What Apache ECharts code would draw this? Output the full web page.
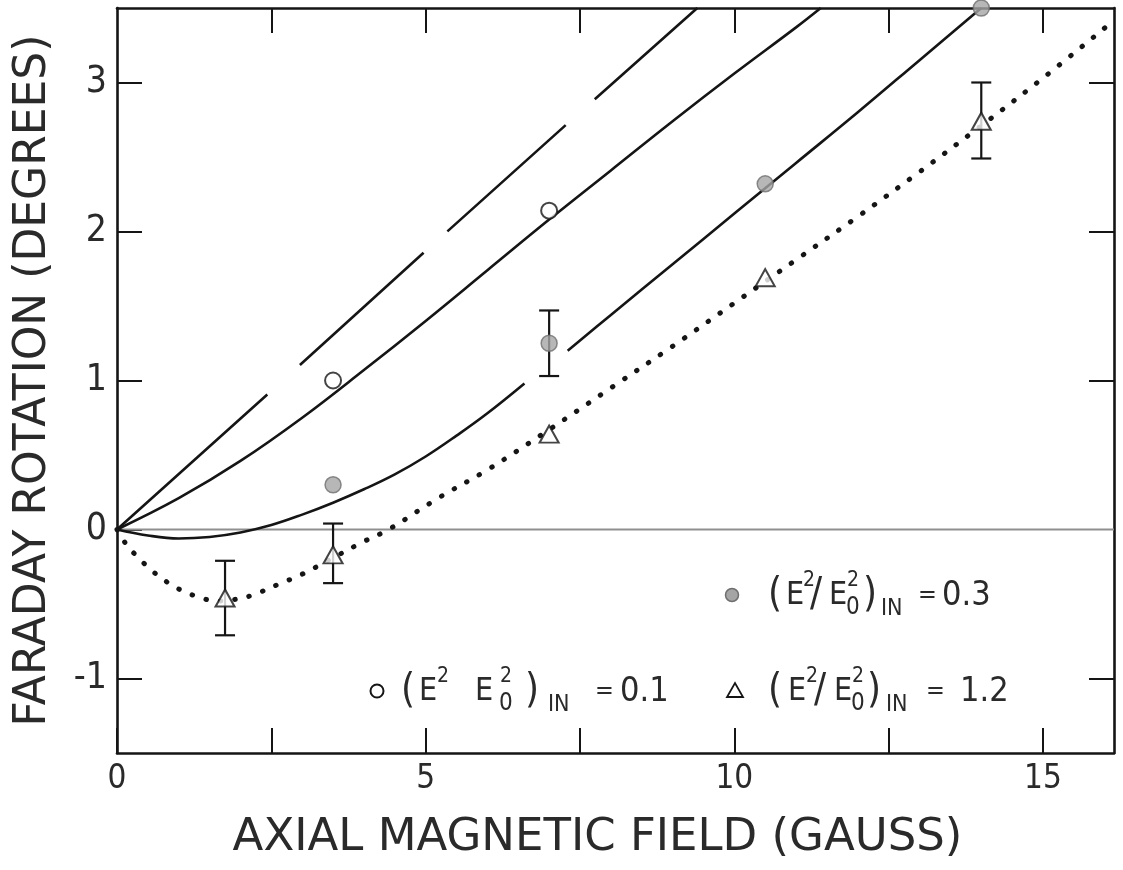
<!DOCTYPE html>
<html>
<head>
<meta charset="utf-8">
<script src="https://cdn.jsdelivr.net/npm/echarts@6/dist/echarts.min.js"></script>
<style>html,body{margin:0;padding:0;background:#fff}#c{width:1123px;height:870px}</style>
</head>
<body>
<div id="c"></div>
<script>
// ---------- data ----------
const xTickValues = [0, 2.5, 5, 7.5, 10, 12.5, 15];
const xTopTickValues = [2.5, 5, 7.5, 10, 12.5, 15];
const xLabelValues = [0, 5, 10, 15];
const yTickValues = [-1, 0, 1, 2, 3];
const yRightTickValues = [-1, 1, 2, 3];
const yLabelValues = [-1, 0, 1, 2, 3];

// long-dashed theory curve
const curveDashed = [[0, 0], [2.5, 0.93], [5, 1.87], [7.5, 2.8], [9.4, 3.5]];
// solid curve through open circles (E²/E0² = 0.1)
const curveLow = [[0, 0], [1, 0.21], [2, 0.46], [3, 0.75], [4, 1.07], [5, 1.40], [6, 1.74], [7, 2.08],
  [8, 2.41], [9, 2.74], [10, 3.06], [11, 3.37], [11.4, 3.5]];
// solid curve through filled circles (E²/E0² = 0.3), broken at the error bar
const curveMidA = [[0, 0], [0.5, -0.04], [1, -0.06], [1.5, -0.05], [2, -0.02], [2.5, 0.03], [3, 0.10], [3.5, 0.18],
  [4, 0.27], [4.5, 0.37], [5, 0.49], [5.5, 0.63], [6, 0.78], [6.6, 0.98]];
const curveMidB = [[7.3, 1.2], [8, 1.44], [9, 1.78], [10, 2.12], [11, 2.46], [12, 2.8], [13, 3.15], [14, 3.5]];
// dotted curve through triangles (E²/E0² = 1.2)
const curveDotted = [[0, 0], [0.15, -0.1], [0.3, -0.17], [0.55, -0.27], [0.8, -0.35], [1.05, -0.41], [1.3, -0.45],
  [1.6, -0.48], [1.9, -0.47], [2.2, -0.44], [2.6, -0.37], [3.0, -0.3], [3.5, -0.19], [4.0, -0.08], [4.4, 0.0],
  [5.2, 0.21], [6.0, 0.4], [7.0, 0.67], [8.0, 0.95], [9.0, 1.23], [10.0, 1.52], [11.0, 1.81], [12.0, 2.1],
  [13.0, 2.4], [14.0, 2.71], [15.0, 3.03], [16.1, 3.4]];

const pointsOpen = [[3.5, 1.0], [7, 2.14]];
const pointsFilled = [[3.5, 0.3], [7, 1.25], [10.5, 2.32], [14, 3.5]];
const pointsTriangle = [[1.75, -0.46], [3.5, -0.17], [7, 0.64], [10.5, 1.69], [14, 2.74]];
// [x, low, high]
const errorBars = [[1.75, -0.71, -0.21], [3.5, -0.36, 0.04], [7, 1.03, 1.47], [14, 2.49, 3.0]];
const zeroLine = [[0, 0], [16.15, 0]];

// ---------- styling ----------
const INK = '#151515';
const TXT = '#2a2a2a';
const FONT = "'DejaVu Sans', sans-serif";
const FONTC = "'DejaVu Sans Condensed', 'DejaVu Sans', sans-serif";
const FONTN = "'Liberation Sans Narrow', 'DejaVu Sans Condensed', sans-serif";

// offsets of the pieces of a legend formula, relative to its opening parenthesis
function legendFormula(x0, y0, o, value) {
  const parts = [];
  const t = (str, dx, dy, size) => parts.push({
    type: 'text', x: x0 + dx, y: y0 + dy, silent: true,
    style: { text: str, fill: TXT, fontSize: size, fontFamily: FONTC, align: 'left', verticalAlign: 'middle' }
  });
  t('(', -2, 0, 40);
  t('E', o.e1, 0, 32);
  t('2', o.s1, -15, 21);
  if (o.sl !== undefined) t('/', o.sl, 0, 40);
  t('E', o.e2, 0, 32);
  t('2', o.s2, -15, 21);
  t('0', o.s2 - 1, 12, 24);
  t(')', o.cp, 0, 40);
  t('IN', o.inn, 13, 23);
  t('=', o.eq, -1, 25);
  t(value, o.val, 0, 34);
  return parts;
}

const graphics = [].concat(
  [{ type: 'circle', shape: { cx: 732, cy: 595, r: 6.5 }, style: { fill: '#a5a5a5', stroke: '#6f6f6f', lineWidth: 1.5 }, silent: true },
   { type: 'circle', shape: { cx: 377, cy: 691, r: 6.5 }, style: { fill: '#fff', stroke: INK, lineWidth: 2 }, silent: true },
   { type: 'polygon', shape: { points: [[727, 697], [743, 697], [735, 683]] }, style: { fill: '#fff', stroke: INK, lineWidth: 1.8 }, silent: true }],
  legendFormula(770, 596, { e1: 16, s1: 33, sl: 40, e2: 59, s2: 77, cp: 93, inn: 111, eq: 148, val: 172 }, '0.3'),
  legendFormula(403, 692, { e1: 16, s1: 34, e2: 72, s2: 97, cp: 122, inn: 145, eq: 192, val: 217 }, '0.1'),
  legendFormula(770, 692, { e1: 18, s1: 36, sl: 44, e2: 64, s2: 82, cp: 97, inn: 116, eq: 156, val: 190 }, '1.2')
);

const chart = echarts.init(document.getElementById('c'), null, { renderer: 'canvas' });

const axisLineStyle = { color: INK, width: 2.6 };
const tickStyle = { color: INK, width: 2 };

chart.setOption({
  animation: false,
  backgroundColor: '#fff',
  grid: { left: 117, right: 9, top: 8, bottom: 117, containLabel: false },
  xAxis: [
    {
      type: 'value', min: 0, max: 16.15, position: 'bottom',
      axisLine: { show: true, onZero: false, lineStyle: axisLineStyle },
      axisTick: { show: true, inside: true, length: 25, customValues: xTickValues, lineStyle: tickStyle },
      axisLabel: { customValues: xLabelValues, fontSize: 33, fontFamily: FONTN, color: TXT, margin: 10 },
      splitLine: { show: false },
      name: 'AXIAL MAGNETIC FIELD (GAUSS)', nameLocation: 'middle', nameGap: 63,
      nameTextStyle: { fontSize: 45, fontFamily: FONT, color: TXT, padding: [0, 36, 0, 0] }
    },
    {
      type: 'value', min: 0, max: 16.15, position: 'top',
      axisLine: { show: true, onZero: false, lineStyle: axisLineStyle },
      axisTick: { show: true, inside: true, length: 25, customValues: xTopTickValues, lineStyle: tickStyle },
      axisLabel: { show: false }, splitLine: { show: false }
    }
  ],
  yAxis: [
    {
      type: 'value', min: -1.5, max: 3.5, position: 'left',
      axisLine: { show: true, onZero: false, lineStyle: axisLineStyle },
      axisTick: { show: true, inside: true, length: 25, customValues: yTickValues, lineStyle: tickStyle },
      axisLabel: { customValues: yLabelValues, fontSize: 37, fontFamily: FONTN, color: TXT, margin: 10 },
      splitLine: { show: false },
      name: 'FARADAY ROTATION (DEGREES)', nameLocation: 'middle', nameGap: 61,
      nameTextStyle: { fontSize: 44, fontFamily: FONT, color: TXT }
    },
    {
      type: 'value', min: -1.5, max: 3.5, position: 'right',
      axisLine: { show: true, onZero: false, lineStyle: axisLineStyle },
      axisTick: { show: true, inside: true, length: 25, customValues: yRightTickValues, lineStyle: tickStyle },
      axisLabel: { show: false }, splitLine: { show: false }
    }
  ],
  graphic: graphics,
  series: [
    { type: 'line', data: zeroLine, symbol: 'none', lineStyle: { color: '#8f8f8f', width: 2 }, z: 1, silent: true },
    { type: 'line', data: curveDashed, symbol: 'none', lineStyle: { color: INK, width: 2.6, type: [202, 44, 167, 32, 159, 39, 220] }, z: 2 },
    { type: 'line', data: curveLow, symbol: 'none', smooth: 0.4, lineStyle: { color: INK, width: 2.6 }, z: 2 },
    { type: 'line', data: curveMidA, symbol: 'none', smooth: 0.4, lineStyle: { color: INK, width: 2.6 }, z: 2 },
    { type: 'line', data: curveMidB, symbol: 'none', smooth: 0.4, lineStyle: { color: INK, width: 2.6 }, z: 2 },
    { type: 'line', data: curveDotted, symbol: 'none', smooth: 0.35, lineStyle: { color: INK, width: 5, type: [0.5, 14], cap: 'round' }, z: 2 },
    {
      type: 'custom', data: errorBars, z: 3, silent: true,
      encode: { x: 0, y: [1, 2] },
      renderItem: function (params, api) {
        const x = api.value(0);
        const lo = api.coord([x, api.value(1)]);
        const hi = api.coord([x, api.value(2)]);
        const hw = 10;
        const st = { stroke: INK, lineWidth: 2.2 };
        return {
          type: 'group', children: [
            { type: 'line', shape: { x1: lo[0], y1: lo[1], x2: hi[0], y2: hi[1] }, style: st },
            { type: 'line', shape: { x1: lo[0] - hw, y1: lo[1], x2: lo[0] + hw, y2: lo[1] }, style: st },
            { type: 'line', shape: { x1: hi[0] - hw, y1: hi[1], x2: hi[0] + hw, y2: hi[1] }, style: st }
          ]
        };
      }
    },
    { type: 'scatter', data: pointsOpen, symbol: 'circle', symbolSize: 16, clip: false, z: 4,
      itemStyle: { color: '#fff', borderColor: INK, borderWidth: 2 } },
    { type: 'scatter', data: pointsFilled, symbol: 'circle', symbolSize: 16, clip: false, z: 4,
      itemStyle: { color: '#a5a5a5', borderColor: '#6f6f6f', borderWidth: 1.5 } },
    { type: 'scatter', data: pointsTriangle, symbol: 'triangle', symbolSize: [19, 17], clip: false, z: 4,
      itemStyle: { color: '#fff', borderColor: INK, borderWidth: 2 } }
  ]
});
</script>
</body>
</html>
